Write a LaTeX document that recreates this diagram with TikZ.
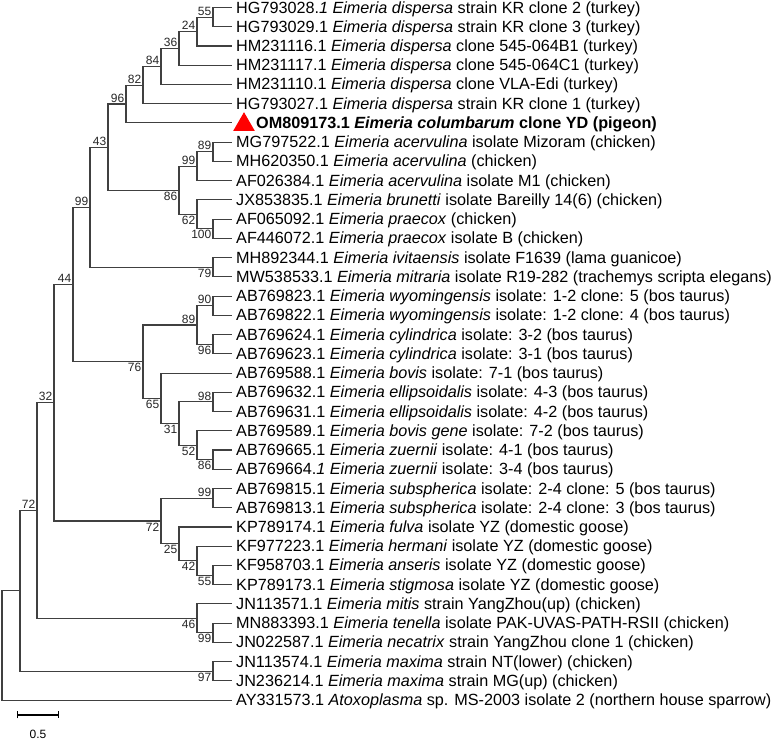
\documentclass[tikz,border=0pt]{standalone}
\usepackage{fontspec}
\setmainfont{Liberation Sans}
\usetikzlibrary{shapes.geometric,arrows.meta}

\tikzset{
    branch/.style={draw=black!75, line width=1.1pt},
    taxon/.style={anchor=west, inner xsep=4pt, inner ysep=0pt, text height=13pt, text depth=2pt, font=\fontsize{16.2}{18}\selectfont},
    bs/.style={inner sep=1.5pt, font=\fontsize{12}{14}\selectfont, text=black!85},
    bsup/.style={label={[bs]above left:#1}},
    bsdn/.style={label={[bs]below left:#1}}
}

\begin{document}
\begin{tikzpicture}[x=1pt, y=-19.24pt]
    \useasboundingbox (0,-0.39) rectangle (777,38.23);

    \node[taxon] at (232,0) (L1) {HG793028.\textit{1} \textit{Eimeria dispersa} strain KR clone 2 (turkey)};
    \node[taxon] at (232,1) (L2) {HG793029.1 \textit{Eimeria dispersa} strain KR clone 3 (turkey)};
    \node[taxon] at (232,2) (L3) {HM231116.1 \textit{Eimeria dispersa} clone 545-064B1 (turkey)};
    \node[taxon] at (232,3) (L4) {HM231117.1 \textit{Eimeria dispersa} clone 545-064C1 (turkey)};
    \node[taxon] at (232,4) (L5) {HM231110.1 \textit{Eimeria dispersa} clone VLA-Edi (turkey)};
    \node[taxon] at (232,5) (L6) {HG793027.1 \textit{Eimeria dispersa} strain KR clone 1 (turkey)};
    \coordinate (L7) at (232,6);
    \node[regular polygon, regular polygon sides=3, fill=red, minimum size=25pt, inner sep=0pt] at (244,6.09) (tri) {};
    \node[taxon] at (252,6) (om) {\textbf{OM809173.1 \textit{Eimeria columbarum} clone YD (pigeon)}};
    \node[taxon] at (232,7) (L8) {MG797522.1 \textit{Eimeria acervulina} isolate Mizoram (chicken)};
    \node[taxon] at (232,8) (L9) {MH620350.1 \textit{Eimeria acervulina} (chicken)};
    \node[taxon] at (232,9) (L10) {AF026384.1 \textit{Eimeria acervulina} isolate M1 (chicken)};
    \node[taxon] at (232,10) (L11) {JX853835.1 \textit{Eimeria brunetti} isolate Bareilly 14(6) (chicken)};
    \node[taxon] at (232,11) (L12) {AF065092.1 \textit{Eimeria praecox} (chicken)};
    \node[taxon] at (232,12) (L13) {AF446072.1 \textit{Eimeria praecox} isolate B (chicken)};
    \node[taxon] at (232,13) (L14) {MH892344.1 \textit{Eimeria ivitaensis} isolate F1639 (lama guanicoe)};
    \node[taxon] at (232,14) (L15) {MW538533.1 \textit{Eimeria mitraria} isolate R19-282 (trachemys scripta elegans)};
    \node[taxon] at (232,15) (L16) {AB769823.1 \textit{Eimeria wyomingensis} isolate: 1-2 clone: 5 (bos taurus)};
    \node[taxon] at (232,16) (L17) {AB769822.1 \textit{Eimeria wyomingensis} isolate: 1-2 clone: 4 (bos taurus)};
    \node[taxon] at (232,17) (L18) {AB769624.1 \textit{Eimeria cylindrica} isolate: 3-2 (bos taurus)};
    \node[taxon] at (232,18) (L19) {AB769623.1 \textit{Eimeria cylindrica} isolate: 3-1 (bos taurus)};
    \node[taxon] at (232,19) (L20) {AB769588.1 \textit{Eimeria bovis} isolate: 7-1 (bos taurus)};
    \node[taxon] at (232,20) (L21) {AB769632.1 \textit{Eimeria ellipsoidalis} isolate: 4-3 (bos taurus)};
    \node[taxon] at (232,21) (L22) {AB769631.1 \textit{Eimeria ellipsoidalis} isolate: 4-2 (bos taurus)};
    \node[taxon] at (232,22) (L23) {AB769589.1 \textit{Eimeria bovis gene} isolate: 7-2 (bos taurus)};
    \node[taxon] at (232,23) (L24) {AB769665.1 \textit{Eimeria zuernii} isolate: 4-1 (bos taurus)};
    \node[taxon] at (232,24) (L25) {AB769664.\textit{1} \textit{Eimeria zuernii} isolate: 3-4 (bos taurus)};
    \node[taxon] at (232,25) (L26) {AB769815.1 \textit{Eimeria subspherica} isolate: 2-4 clone: 5 (bos taurus)};
    \node[taxon] at (232,26) (L27) {AB769813.1 \textit{Eimeria subspherica} isolate: 2-4 clone: 3 (bos taurus)};
    \node[taxon] at (232,27) (L28) {KP789174.1 \textit{Eimeria fulva} isolate YZ (domestic goose)};
    \node[taxon] at (232,28) (L29) {KF977223.1 \textit{Eimeria hermani} isolate YZ (domestic goose)};
    \node[taxon] at (232,29) (L30) {KF958703.1 \textit{Eimeria anseris} isolate YZ (domestic goose)};
    \node[taxon] at (232,30) (L31) {KP789173.1 \textit{Eimeria stigmosa} isolate YZ (domestic goose)};
    \node[taxon] at (232,31) (L32) {JN113571.1 \textit{Eimeria mitis} strain YangZhou(up) (chicken)};
    \node[taxon] at (232,32) (L33) {MN883393.1 \textit{Eimeria tenella} isolate PAK-UVAS-PATH-RSII (chicken)};
    \node[taxon] at (232,33) (L34) {JN022587.1 \textit{Eimeria necatrix} strain YangZhou clone 1 (chicken)};
    \node[taxon] at (232,34) (L35) {JN113574.1 \textit{Eimeria maxima} strain NT(lower) (chicken)};
    \node[taxon] at (232,35) (L36) {JN236214.1 \textit{Eimeria maxima} strain MG(up) (chicken)};
    \node[taxon] at (232,36) (L37) {AY331573.1 \textit{Atoxoplasma} sp. MS-2003 isolate 2 (northern house sparrow)};

    \coordinate[bsup=55] (n55) at (213,0.5);
    \coordinate[bsup=24] (n24) at (197,1.25);
    \coordinate[bsup=36] (n36) at (179,2.125);
    \coordinate[bsup=84] (n84) at (161,3.0625);
    \coordinate[bsup=82] (n82) at (143,4.03125);
    \coordinate[bsup=96] (n96) at (126,5.015625);
    \coordinate[bsup=89] (n89a) at (213,7.5);
    \coordinate[bsup=99] (n99a) at (197,8.25);
    \coordinate[bsdn=100] (n100) at (213,11.5);
    \coordinate[bsdn=62] (n62) at (197,10.75);
    \coordinate[bsdn=86] (n86) at (179,9.5);
    \coordinate[bsup=43] (n43) at (108,7.2578);
    \coordinate[bsdn=79] (n79) at (213,13.5);
    \coordinate[bsup=99] (n99b) at (90,10.3789);
    \coordinate[bsup=90] (n90) at (213,15.5);
    \coordinate[bsdn=96] (n96b) at (213,17.5);
    \coordinate[bsup=89] (n89b) at (197,16.5);
    \coordinate[bsup=98] (n98) at (213,20.5);
    \coordinate[bsdn=86] (n86b) at (213,23.5);
    \coordinate[bsdn=52] (n52) at (197,22.75);
    \coordinate[bsdn=31] (n31) at (179,21.625);
    \coordinate[bsdn=65] (n65) at (161,20.3125);
    \coordinate[bsdn=76] (n76) at (143,18.40625);
    \coordinate[bsup=44] (n44) at (73,14.3926);
    \coordinate[bsup=99] (n99c) at (213,25.5);
    \coordinate[bsdn=55] (n55b) at (213,29.5);
    \coordinate[bsdn=42] (n42) at (197,28.75);
    \coordinate[bsdn=25] (n25) at (179,27.875);
    \coordinate[bsdn=72] (n72b) at (161,26.6875);
    \coordinate[bsup=32] (n32) at (54,20.54);
    \coordinate[bsdn=99] (n99d) at (213,32.5);
    \coordinate[bsdn=46] (n46) at (197,31.75);
    \coordinate[bsup=72] (n72) at (37,26.145);
    \coordinate[bsdn=97] (n97) at (213,34.5);
    \coordinate (nX) at (20,30.32);
    \coordinate (root) at (2,33.16);

    \draw[branch] (n55) |- (L1.west) (n55) |- (L2.west);
    \draw[branch] (n24) |- (n55) (n24) |- (L3.west);
    \draw[branch] (n36) |- (n24) (n36) |- (L4.west);
    \draw[branch] (n84) |- (n36) (n84) |- (L5.west);
    \draw[branch] (n82) |- (n84) (n82) |- (L6.west);
    \draw[branch] (n96) |- (n82) (n96) |- (L7);
    \draw[branch] (n89a) |- (L8.west) (n89a) |- (L9.west);
    \draw[branch] (n99a) |- (n89a) (n99a) |- (L10.west);
    \draw[branch] (n100) |- (L12.west) (n100) |- (L13.west);
    \draw[branch] (n62) |- (L11.west) (n62) |- (n100);
    \draw[branch] (n86) |- (n99a) (n86) |- (n62);
    \draw[branch] (n43) |- (n96) (n43) |- (n86);
    \draw[branch] (n79) |- (L14.west) (n79) |- (L15.west);
    \draw[branch] (n99b) |- (n43) (n99b) |- (n79);
    \draw[branch] (n90) |- (L16.west) (n90) |- (L17.west);
    \draw[branch] (n96b) |- (L18.west) (n96b) |- (L19.west);
    \draw[branch] (n89b) |- (n90) (n89b) |- (n96b);
    \draw[branch] (n98) |- (L21.west) (n98) |- (L22.west);
    \draw[branch] (n86b) |- (L24.west) (n86b) |- (L25.west);
    \draw[branch] (n52) |- (L23.west) (n52) |- (n86b);
    \draw[branch] (n31) |- (n98) (n31) |- (n52);
    \draw[branch] (n65) |- (L20.west) (n65) |- (n31);
    \draw[branch] (n76) |- (n89b) (n76) |- (n65);
    \draw[branch] (n44) |- (n99b) (n44) |- (n76);
    \draw[branch] (n99c) |- (L26.west) (n99c) |- (L27.west);
    \draw[branch] (n55b) |- (L30.west) (n55b) |- (L31.west);
    \draw[branch] (n42) |- (L29.west) (n42) |- (n55b);
    \draw[branch] (n25) |- (L28.west) (n25) |- (n42);
    \draw[branch] (n72b) |- (n99c) (n72b) |- (n25);
    \draw[branch] (n32) |- (n44) (n32) |- (n72b);
    \draw[branch] (n99d) |- (L33.west) (n99d) |- (L34.west);
    \draw[branch] (n46) |- (L32.west) (n46) |- (n99d);
    \draw[branch] (n72) |- (n32) (n72) |- (n46);
    \draw[branch] (n97) |- (L35.west) (n97) |- (L36.west);
    \draw[branch] (nX) |- (n72) (nX) |- (n97);
    \draw[branch] (root) |- (nX) (root) |- (L37.west);

    \coordinate (sbl) at (17,36.77);
    \coordinate (sbr) at (59,36.77);
    \draw[branch, black, {Bar[width=7pt]}-{Bar[width=7pt]}] (sbl) -- (sbr);
    \node[bs, text=black] at (38,37.78) (sbt) {0.5};
\end{tikzpicture}
\end{document}
